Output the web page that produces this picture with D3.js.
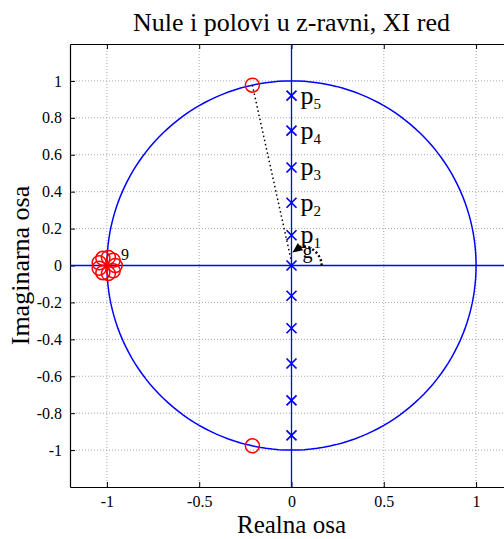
<!DOCTYPE html>
<html>
<head>
<meta charset="utf-8">
<script src="https://cdn.jsdelivr.net/npm/d3@7"></script>
<style>
  body { margin: 0; background: #fff; }
  svg { display: block; }
  text { font-family: "Liberation Serif", "Times New Roman", serif; fill: #000; }
</style>
</head>
<body>
<div id="chart"></div>
<script>
// tick values
const xTicks = [-1, -0.5, 0, 0.5, 1];
const yTicks = [-1, -0.8, -0.6, -0.4, -0.2, 0, 0.2, 0.4, 0.6, 0.8, 1];

const poleIm = [0.92, 0.731, 0.531, 0.34, 0.164, 0, -0.164, -0.34, -0.531, -0.731, -0.92];
const poleNames = ["5", "4", "3", "2", "1"]; // labels for the upper five poles

// zeros: 9-fold zero at -1 (numerically spread) + pair on unit circle
const zerosAtMinusOne = [
  [-0.955, 0], [-0.966, 0.029], [-0.992, 0.044], [-1.022, 0.039], [-1.042, 0.015],
  [-1.042, -0.015], [-1.022, -0.039], [-0.992, -0.044], [-0.966, -0.029]
];
const zerosOnCircle = [[-0.212, 0.977], [-0.212, -0.977]];

const width = 504;
const height = 539;
const serif = "'Liberation Serif', 'Times New Roman', serif";

const x = d3.scaleLinear().domain([-1.2, 1.2]).range([70, 513]);
const y = d3.scaleLinear().domain([-1.2, 1.2]).range([487, 44]);

const svg = d3.select("#chart")
  .append("svg")
  .attr("width", width)
  .attr("height", height);

// grid
svg.append("g")
  .selectAll("line")
  .data(xTicks)
  .join("line")
  .attr("x1", d => x(d)).attr("x2", d => x(d))
  .attr("y1", y(-1.2)).attr("y2", y(1.2))
  .attr("stroke", "#a8a8a8")
  .attr("stroke-width", 1)
  .attr("stroke-dasharray", "1,2");

svg.append("g")
  .selectAll("line")
  .data(yTicks)
  .join("line")
  .attr("y1", d => y(d)).attr("y2", d => y(d))
  .attr("x1", x(-1.2)).attr("x2", x(1.2))
  .attr("stroke", "#a8a8a8")
  .attr("stroke-width", 1)
  .attr("stroke-dasharray", "1,2");

// axes box with inward ticks
const fmt = d => String(d);

svg.append("g")
  .attr("transform", `translate(0,${y(-1.2)})`)
  .call(d3.axisBottom(x).tickValues(xTicks).tickSize(-5).tickSizeOuter(0).tickPadding(9).tickFormat(fmt))
  .style("font-family", serif)
  .style("font-size", "16px");

svg.append("g")
  .attr("transform", `translate(0,${y(1.2)})`)
  .call(d3.axisTop(x).tickValues(xTicks).tickSize(-5).tickSizeOuter(0).tickFormat(""));

svg.append("g")
  .attr("transform", `translate(${x(-1.2)},0)`)
  .call(d3.axisLeft(y).tickValues(yTicks).tickSize(-5).tickSizeOuter(0).tickPadding(8).tickFormat(fmt))
  .style("font-family", serif)
  .style("font-size", "16px");

svg.append("g")
  .attr("transform", `translate(${x(1.2)},0)`)
  .call(d3.axisRight(y).tickValues(yTicks).tickSize(-5).tickSizeOuter(0).tickFormat(""));

svg.selectAll(".domain").attr("stroke", "#000").attr("stroke-width", 1.2);
svg.selectAll(".tick line").attr("stroke", "#000");

// unit circle and axes lines
const circlePts = d3.range(0, 361, 2).map(a => [Math.cos(a * Math.PI / 180), Math.sin(a * Math.PI / 180)]);
const line = d3.line().x(d => x(d[0])).y(d => y(d[1]));

svg.append("path")
  .attr("d", line(circlePts))
  .attr("fill", "none")
  .attr("stroke", "#0000ff")
  .attr("stroke-width", 1.5);

svg.append("line")
  .attr("x1", x(-1.2)).attr("x2", x(1.2))
  .attr("y1", y(0)).attr("y2", y(0))
  .attr("stroke", "#0000ff").attr("stroke-width", 1.3);

svg.append("line")
  .attr("x1", x(0)).attr("x2", x(0))
  .attr("y1", y(-1.2)).attr("y2", y(1.2))
  .attr("stroke", "#0000ff").attr("stroke-width", 1.3);

// angle annotation: dotted line to the zero and curved arrow
svg.append("line")
  .attr("x1", x(zerosOnCircle[0][0])).attr("y1", y(zerosOnCircle[0][1]))
  .attr("x2", x(0)).attr("y2", y(0.02))
  .attr("stroke", "#000")
  .attr("stroke-width", 1.5)
  .attr("stroke-dasharray", "1.5,2.8");

const p = d3.path();
p.moveTo(x(0.163), y(0));
p.bezierCurveTo(x(0.165), y(0.07), x(0.08), y(0.13), x(0.03), y(0.09));
svg.append("path")
  .attr("d", p.toString())
  .attr("fill", "none")
  .attr("stroke", "#000")
  .attr("stroke-width", 2.4)
  .attr("stroke-dasharray", "2,2.4");

// arrow head at the end of the curve
const tip = [x(0.005), y(0.07)];
const ang = Math.atan2(y(0.07) - y(0.11), x(0.005) - x(0.06));
const ah = 10, aw = 4.5;
const base = [tip[0] - ah * Math.cos(ang), tip[1] - ah * Math.sin(ang)];
svg.append("path")
  .attr("d", `M${tip[0]},${tip[1]}L${base[0] - aw * Math.sin(ang)},${base[1] + aw * Math.cos(ang)}L${base[0] + aw * Math.sin(ang)},${base[1] - aw * Math.cos(ang)}Z`)
  .attr("fill", "#000");

svg.append("text")
  .attr("x", x(0) + 11)
  .attr("y", y(0) - 8)
  .attr("font-size", 20)
  .text("g");

// zeros
svg.append("g")
  .selectAll("circle")
  .data(zerosAtMinusOne.concat(zerosOnCircle))
  .join("circle")
  .attr("cx", d => x(d[0]))
  .attr("cy", d => y(d[1]))
  .attr("r", 7)
  .attr("fill", "none")
  .attr("stroke", "#ff0000")
  .attr("stroke-width", 1.5);

svg.append("text")
  .attr("x", x(-1) + 14)
  .attr("y", y(0) - 6)
  .attr("font-size", 16)
  .text("9");

// poles
svg.append("g")
  .selectAll("path")
  .data(poleIm)
  .join("path")
  .attr("transform", d => `translate(${x(0)},${y(d)})`)
  .attr("d", "M-5,-5L5,5M-5,5L5,-5")
  .attr("stroke", "#0000ff")
  .attr("stroke-width", 1.7)
  .attr("fill", "none");

const lbl = svg.append("g")
  .selectAll("text")
  .data(poleNames)
  .join("text")
  .attr("x", x(0) + 9)
  .attr("y", (d, i) => y(poleIm[i]) + 8)
  .attr("font-size", 26);
lbl.append("tspan").text("p");
lbl.append("tspan").attr("font-size", 15).attr("dy", 5).text(d => d);

// titles
svg.append("text")
  .attr("x", x(0))
  .attr("y", 31)
  .attr("text-anchor", "middle")
  .attr("font-size", 26)
  .text("Nule i polovi u z-ravni, XI red");

svg.append("text")
  .attr("x", x(0))
  .attr("y", 533)
  .attr("text-anchor", "middle")
  .attr("font-size", 25)
  .text("Realna osa");

svg.append("text")
  .attr("transform", `translate(29,${y(0)}) rotate(-90)`)
  .attr("text-anchor", "middle")
  .attr("font-size", 26)
  .text("Imaginarna osa");
</script>
</body>
</html>
